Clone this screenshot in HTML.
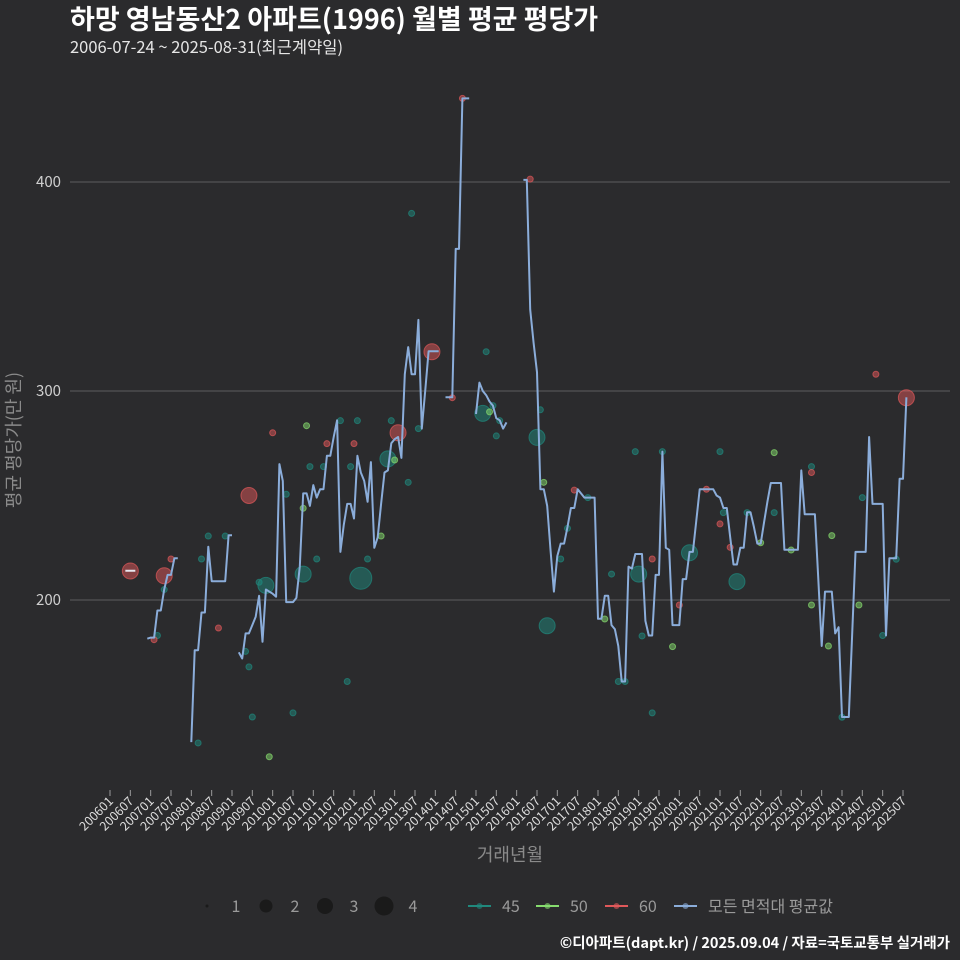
<!DOCTYPE html>
<html><head><meta charset="utf-8">
<style>
html,body{margin:0;padding:0;background:#2b2b2d;}
svg{display:block;font-family:"Noto Sans CJK KR","Liberation Sans",sans-serif;}
</style></head>
<body>
<svg id="chart" width="960" height="960" viewBox="0 0 960 960">
<rect x="0" y="0" width="960" height="960" fill="#2b2b2d"/>
<text x="70" y="29" fill="#ffffff" font-size="27" font-weight="bold">하망 영남동산2 아파트(1996) 월별 평균 평당가</text>
<text x="70" y="53" fill="#e6e6e6" font-size="16.5">2006-07-24 ~ 2025-08-31(최근계약일)</text>
<g id="grid"></g>
<g id="yaxis"></g>
<g id="xaxis"></g>
<g id="points"></g>
<g id="avgline"></g>
<text transform="translate(20,440) rotate(-90)" text-anchor="middle" fill="#8a8a8a" font-size="18">평균 평당가(만 원)</text>
<text x="510" y="861" text-anchor="middle" fill="#8a8a8a" font-size="18">거래년월</text>
<g id="legend"></g>
<text x="950" y="948" text-anchor="end" fill="#ffffff" font-size="14.5" font-weight="bold">©디아파트(dapt.kr) / 2025.09.04 / 자료=국토교통부 실거래가</text>
</svg>
<script>
// monthly average values, index 0 = 2006-01
const avgValues = [
null,null,null,null,null,null,214,null,null,null,null,181.5,
182,182,195,195,205,212,212,220,220,null,null,null,
132,176,176,194,194,225.5,209,209,209,209,209,231,
231,null,175,172,184,184,188,192,202,180,205,204,
203,201.6,265,257,199,199,199,201,216,251,251,245,
255,249,253,253,269,269,278,286,223,236,246,246,
239,269,261,257,247,266,225,230,246,261,262,275,
277,278,268,308,321,308,308,334,282,300,319,319,
319,319,null,297,297,297,368,368,440,440,440,null,
289,304,300,298,295,293,287,286,282,285,null,null,
null,null,401,401,339,323,309,253,253,245,224,204,
221,227,227,235,244,244,253,251,249,249,249,249,
191,191,202,202,188,186,178,161,161,216,215,222,
222,222,190,183,183,212,212,271,225,224,188,188,
188,210,210,223,223,238,253,253,253,253,253,250,
249,244,244,230,217,217,225,225,242,242,235,227,
227,237,247,256,256,256,256,224,224,224,224,224,
262,241,241,241,241,210,178,204,204,204,184,187,
144,144,144,184,223,223,223,223,278,246,246,246,
246,183,220,220,220,258,258,297
];
// individual transactions: month index, value, area group, count (size)
const ptMonth = [6,16,14,13,16,18,41,48,58,64,72,68,73,83,85,82,84,59,63,71,88,52,57,29,34,27,61,76,80,57,74,46,44,32,40,41,70,42,54,26,47,91,104,124,89,95,111,101,110,112,113,115,114,127,126,128,137,141,135,133,148,129,146,155,163,180,156,160,157,166,150,152,160,171,168,176,180,226,235,196,207,207,222,181,188,196,213,183,192,201,232,185,207,221,212,228,216];
const ptValue = [213.9,211.6,183,181,205,219.6,250,280,283.4,274.8,274.8,285.8,285.8,285.8,280,267.5,267,263.8,263.8,263.8,256.3,250.6,243.9,230.6,230.6,219.6,219.6,219.6,230.6,212.4,210.4,207,208.5,186.6,175.4,168,161,144,146,131.6,125,282,440,401.4,385,318.8,318.8,296.8,289.3,290,293,285.8,278.5,291,277.8,256.3,252.6,249,234.3,219.6,212.4,187.7,190.9,271,271,271,212.4,219.6,182.8,177.7,161,161,146,222.6,197.6,253,236.4,308,296.8,270.5,263.8,261,249,241.8,241.8,241.8,230.8,225.2,227.4,223.9,219.5,208.8,197.6,197.6,178,183,143.9];
const ptArea = [60,60,45,60,45,60,60,60,50,60,60,45,45,45,60,45,50,45,45,45,45,45,50,45,45,45,45,45,50,45,45,45,45,60,45,45,45,45,45,45,50,45,60,60,45,60,45,60,45,50,45,45,45,45,45,50,60,45,45,45,45,45,50,45,45,45,45,60,45,50,45,45,45,45,60,60,60,60,60,50,45,60,45,45,45,45,50,60,50,50,45,45,50,50,50,45,45];
const ptCount = [3,3,1,1,1,1,3,1,1,1,1,1,1,1,3,3,1,1,1,1,1,1,1,1,1,1,1,1,1,3,4,3,1,1,1,1,1,1,1,1,1,1,1,1,1,3,1,1,3,1,1,1,1,1,3,1,1,1,1,1,1,3,1,1,1,1,3,1,1,1,1,1,1,3,1,1,1,1,3,1,1,1,1,1,1,1,1,1,1,1,1,3,1,1,1,1,1];
const yTicks = [200,300,400];
const legendSizes = [1,2,3,4];
const legendAreas = ["45","50","60"];

const NS = "http://www.w3.org/2000/svg";
const areaColor = {"45":"#20897d","50":"#86dc6e","60":"#e0585a"};
const radius = {1:3,2:6,3:8,4:11};
function xs(m){return 110 + m*(20.333/6);}
function ys(v){return 600 - (v-200)*2.09;}
function mk(tag, attrs, parent){const e=document.createElementNS(NS,tag);for(const k in attrs)e.setAttribute(k,attrs[k]);parent.appendChild(e);return e;}

const grid=document.getElementById('grid'), yax=document.getElementById('yaxis');
yTicks.forEach(t=>{
  const l=mk('line',{x1:70,x2:950,y1:ys(t),y2:ys(t),stroke:'#5e5e5e','stroke-width':1},grid);
  
  
  const tx=mk('text',{x:61,y:ys(t)+5,'text-anchor':'end',fill:'#cfcfcf','font-size':15},yax);
  tx.textContent=t;
  
  
});
const xax=document.getElementById('xaxis');
for(let k=0;k<40;k++){
  const yr=2006+Math.floor(k/2), mo=k%2?'07':'01';
  const lab=yr+mo, x=xs(k*6);
  const tk=mk('line',{x1:x,x2:x,y1:790,y2:796,stroke:'#9a9a9a','stroke-width':1},xax);
  
  
  const tx=mk('text',{x:x+4,y:802,'text-anchor':'end',fill:'#dddddd','font-size':12.5,transform:`rotate(-45 ${x+4} 802)`},xax);
  tx.textContent=lab;
  
  
}
const pts=document.getElementById('points');
for(let i=0;i<ptMonth.length;i++){
  const c=areaColor[ptArea[i]];
  const ci=mk('circle',{cx:xs(ptMonth[i]),cy:ys(ptValue[i]),r:radius[ptCount[i]],fill:c,'fill-opacity':0.5,stroke:c,'stroke-opacity':0.7,'stroke-width':1},pts);
  
  
}
const al=document.getElementById('avgline');
let run=[];
function flush(){
  if(run.length===1){
    const [m,v]=run[0];
    const d=mk('line',{x1:xs(m)-5,x2:xs(m)+5,y1:ys(v),y2:ys(v),stroke:'#e8e8f0','stroke-width':2},al);
    
    
  } else if(run.length>1){
    const p=mk('polyline',{points:run.map(([m,v])=>xs(m).toFixed(1)+','+ys(v).toFixed(1)).join(' '),fill:'none',stroke:'#8badda','stroke-width':2,'stroke-linejoin':'round'},al);
    
    
  }
  run=[];
}
avgValues.forEach((v,m)=>{ if(v===null) flush(); else run.push([m,v]); });
flush();

const lg=document.getElementById('legend');
const sizeX=[207,266,325,384], lr={1:1.5,2:6.5,3:8,4:9.5};
legendSizes.forEach((s,i)=>{
  const c=mk('circle',{cx:sizeX[i],cy:906,r:lr[s],fill:'#1a1a1a'},lg);
  
  
  const t=mk('text',{x:sizeX[i]+29,y:912,'text-anchor':'middle',fill:'#9a9a9a','font-size':16},lg);
  t.textContent=s;
  
  
});
const keyX=[468,536,605,674];
const keyCol=[areaColor["45"],areaColor["50"],areaColor["60"],'#8badda'];
const keyLab=legendAreas.concat(['모든 면적대 평균값']);
keyLab.forEach((lab,i)=>{
  const g=mk('g',{},lg);
  
  
  mk('line',{x1:keyX[i],x2:keyX[i]+23,y1:906,y2:906,stroke:keyCol[i],'stroke-width':2},g);
  mk('circle',{cx:keyX[i]+11.5,cy:906,r:3,fill:keyCol[i],'fill-opacity':0.6},g);
  const t=mk('text',{x:keyX[i]+34,y:912,fill:'#9a9a9a','font-size':16},g);
  t.textContent=lab;
});
</script>
</body></html>
